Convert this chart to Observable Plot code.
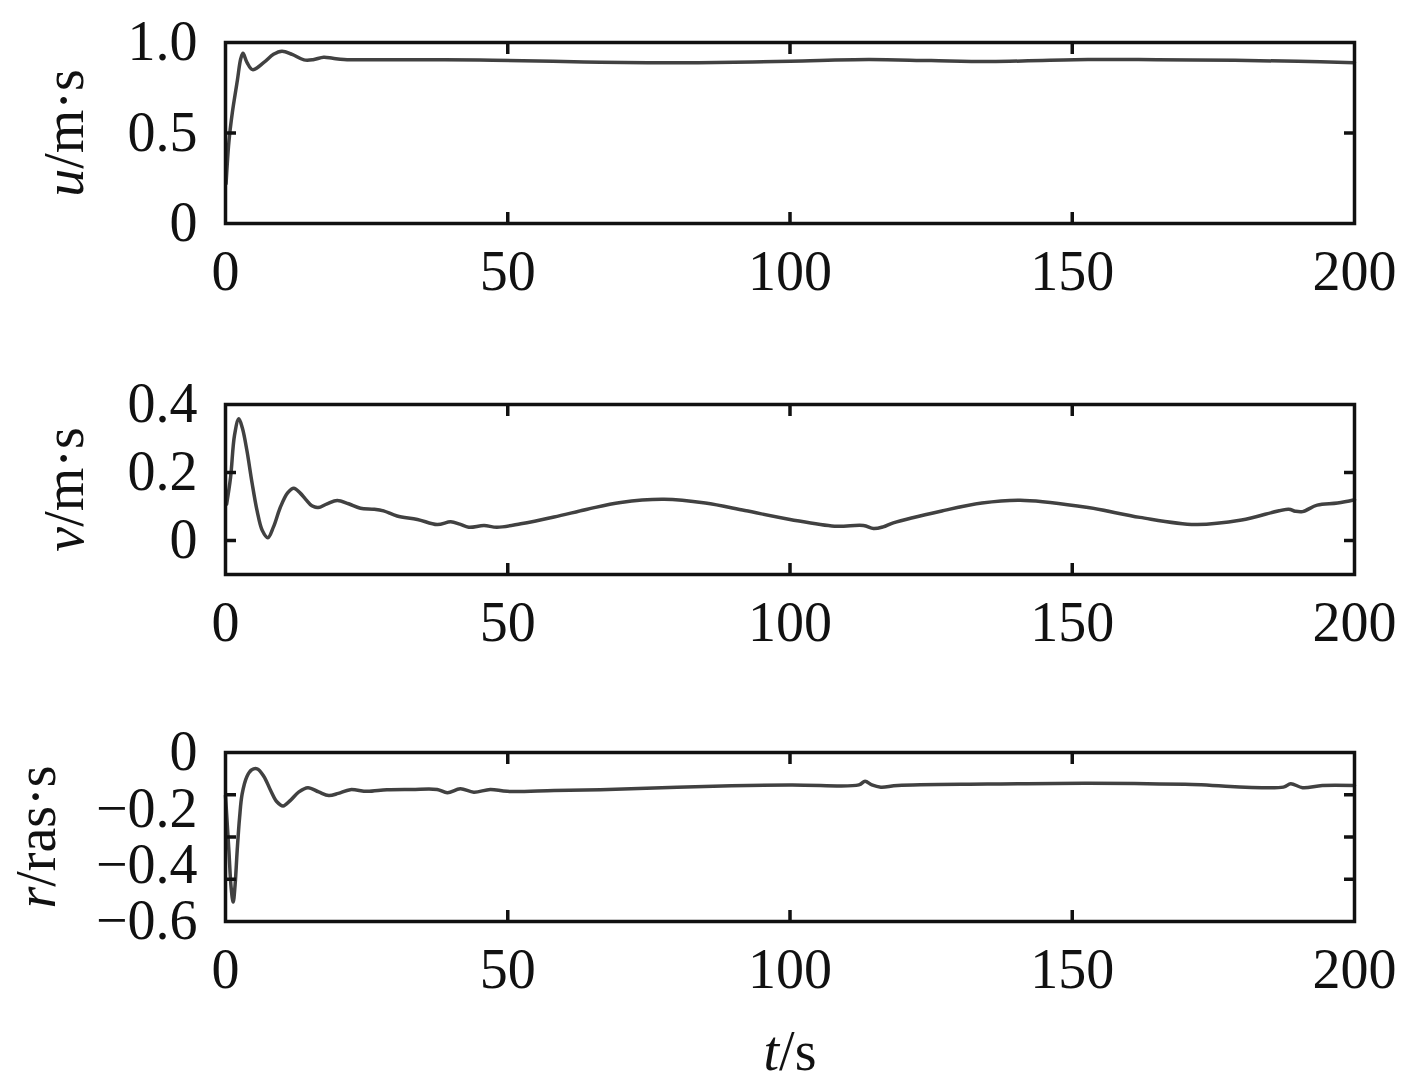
<!DOCTYPE html>
<html>
<head>
<meta charset="utf-8">
<script src="https://cdn.jsdelivr.net/npm/d3@7"></script>
<script src="https://cdn.jsdelivr.net/npm/@observablehq/plot@0.6"></script>
<style>
  html, body { margin: 0; padding: 0; background: #fff; }
  #chart { width: 1417px; height: 1087px; position: relative; background: #fff; }
  #chart svg { display: block; }
</style>
</head>
<body>
<div id="chart"></div>
<script>
// ---- data ----
const xTicks = [0, 50, 100, 150, 200];
const xInnerTicks = [50, 100, 150];

const uTime = [0.1, 0.6, 1.2, 2.1, 2.7, 3.1, 3.8, 4.8, 6.8, 8.5, 10.0, 11.8, 13.9, 15.5, 17.4, 19, 21, 30, 45, 58, 66.4, 75, 83.7, 100, 113.9, 125, 135.5, 152.8, 165, 178.8, 190, 200];
const uValues = [0.22, 0.45, 0.61, 0.79, 0.91, 0.94, 0.89, 0.85, 0.89, 0.935, 0.952, 0.934, 0.904, 0.905, 0.919, 0.913, 0.906, 0.905, 0.903, 0.897, 0.891, 0.888, 0.888, 0.897, 0.906, 0.900, 0.895, 0.906, 0.905, 0.902, 0.896, 0.888];
const uTicks = [0, 0.5, 1.0];
const uInnerTicks = [0.5];

const vTime = [0.2, 0.9, 1.6, 2.36, 3.0, 3.8, 4.7, 5.6, 6.5, 7.5, 8.5, 9.7, 11, 12.1, 13.2, 14.2, 15.3, 16.4, 18, 19.8, 21.8, 23.9, 26.3, 28, 30.4, 34, 37.5, 39.9, 41.5, 43.1, 45.8, 48.1, 52.3, 58.2, 64.1, 70, 77.7, 85, 92, 100, 107.9, 113, 114.8, 116.5, 118.3, 126.9, 134, 141.6, 152.8, 162, 171.8, 180, 188.3, 189.5, 190.8, 193.4, 197, 200];
const vValues = [0.107, 0.186, 0.31, 0.358, 0.33, 0.264, 0.17, 0.087, 0.03, 0.008, 0.04, 0.097, 0.14, 0.154, 0.14, 0.121, 0.102, 0.097, 0.108, 0.118, 0.108, 0.095, 0.092, 0.087, 0.072, 0.062, 0.047, 0.055, 0.048, 0.039, 0.044, 0.039, 0.049, 0.069, 0.092, 0.112, 0.121, 0.11, 0.088, 0.062, 0.042, 0.044, 0.035, 0.04, 0.052, 0.087, 0.11, 0.118, 0.097, 0.068, 0.047, 0.06, 0.092, 0.086, 0.085, 0.104, 0.11, 0.12];
const vTicks = [0, 0.2, 0.4];
const vInnerTicks = [0, 0.2];

const rTime = [0, 0.6, 1.0, 1.36, 1.7, 2.07, 2.5, 2.95, 3.8, 4.6, 5.6, 6.8, 8.0, 9.1, 10.2, 11.5, 13, 14.6, 16.5, 18.3, 20, 22.1, 25.1, 28.6, 33, 37.5, 39.3, 41.6, 44, 46.9, 49.9, 58.2, 66.4, 80, 100, 112.2, 113.3, 114.5, 116.1, 119.1, 135, 152.8, 170, 187.4, 188.7, 190.8, 194.3, 200];
const rValues = [-0.153, -0.348, -0.48, -0.531, -0.47, -0.348, -0.23, -0.147, -0.085, -0.062, -0.058, -0.085, -0.135, -0.175, -0.19, -0.17, -0.14, -0.125, -0.14, -0.153, -0.145, -0.132, -0.138, -0.132, -0.131, -0.131, -0.143, -0.129, -0.141, -0.131, -0.138, -0.135, -0.132, -0.123, -0.115, -0.115, -0.102, -0.115, -0.123, -0.117, -0.112, -0.109, -0.113, -0.123, -0.111, -0.125, -0.117, -0.117];
const rTicks = [0, -0.2, -0.4, -0.6];
const rInnerTicks = [-0.15, -0.3, -0.45];

// ---- helpers ----
const FONT = "'Liberation Serif', 'Times New Roman', serif";
const fmt = d => d === 0 ? "0" : (d < 0 ? "\u2212" + Math.abs(d).toFixed(1) : d.toFixed(1));
const LINE = "#414141";
const TICK = 11;
const SW = 3.5;

function panel({time, values, domain, ticks, innerTicks, label, marginTop, height, marginBottom, labelOffset, xLabel}) {
  const data = time.map((t, i) => ({t, y: values[i]}));
  const marks = [
    Plot.line(data, {x: "t", y: "y", stroke: LINE, strokeWidth: SW, curve: "catmull-rom"}),
    Plot.axisX({ticks: xTicks, tickSize: 0, tickPadding: 27, tickFormat: d => String(d), label: xLabel || null, labelAnchor: "center", labelOffset: 148, labelArrow: "none"}),
    Plot.axisX({anchor: "bottom", ticks: xInnerTicks, tickSize: TICK, dy: -TICK, fill: "none", stroke: "#111", strokeWidth: SW, label: null}),
    Plot.axisX({anchor: "top", ticks: xInnerTicks, tickSize: TICK, dy: TICK, fill: "none", stroke: "#111", strokeWidth: SW, label: null}),
    Plot.axisY({ticks, tickSize: 0, tickPadding: 28, tickFormat: fmt, label, labelAnchor: "center", labelOffset, labelArrow: "none"}),
    Plot.axisY({anchor: "left", ticks: innerTicks, tickSize: TICK, dx: TICK, fill: "none", stroke: "#111", strokeWidth: SW, label: null}),
    Plot.axisY({anchor: "right", ticks: innerTicks, tickSize: TICK, dx: -TICK, fill: "none", stroke: "#111", strokeWidth: SW, label: null}),
    Plot.frame({stroke: "#111", strokeWidth: SW})
  ];
  const svg = Plot.plot({
    width: 1417,
    height: marginTop + height + marginBottom,
    marginLeft: 225,
    marginRight: 63,
    marginTop,
    marginBottom,
    x: {domain: [0, 200]},
    y: {domain},
    style: {fontFamily: FONT, fontSize: "56px", color: "#111", background: "#fff", overflow: "visible"},
    marks
  });
  // italic variable names in labels
  svg.querySelectorAll('g[aria-label="y-axis label"] text, g[aria-label="x-axis label"] text').forEach(el => {
    const txt = el.textContent;
    const idx = txt.indexOf("/");
    if (idx > 0) {
      el.textContent = "";
      const a = document.createElementNS("http://www.w3.org/2000/svg", "tspan");
      a.setAttribute("font-style", "italic");
      a.textContent = txt.slice(0, idx);
      const b = document.createElementNS("http://www.w3.org/2000/svg", "tspan");
      b.textContent = txt.slice(idx);
      el.appendChild(a);
      el.appendChild(b);
    }
  });
  return svg;
}

const chart = document.getElementById("chart");
chart.appendChild(panel({time: uTime, values: uValues, domain: [0, 1], ticks: uTicks, innerTicks: uInnerTicks, label: "u/m\u00b7s", marginTop: 42, height: 181, marginBottom: 107, labelOffset: 182}));
chart.appendChild(panel({time: vTime, values: vValues, domain: [-0.1, 0.4], ticks: vTicks, innerTicks: vInnerTicks, label: "v/m\u00b7s", marginTop: 74, height: 170, marginBottom: 106, labelOffset: 182}));
chart.appendChild(panel({time: rTime, values: rValues, domain: [-0.6, 0], ticks: rTicks, innerTicks: rInnerTicks, label: "r/ras\u00b7s", marginTop: 72, height: 169, marginBottom: 166, labelOffset: 210, xLabel: "t/s"}));
</script>
</body>
</html>
